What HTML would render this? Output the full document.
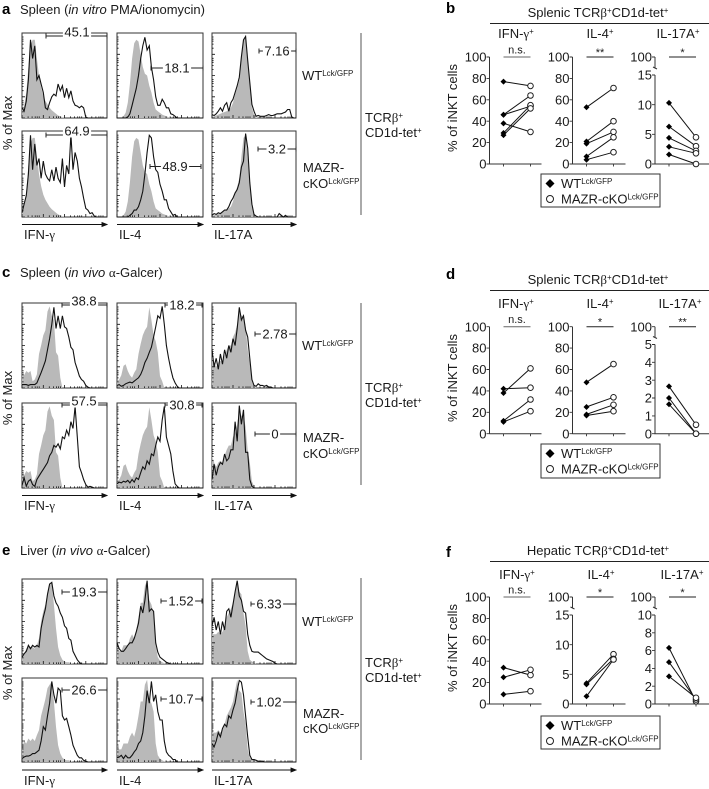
<!DOCTYPE html>
<html>
<head>
<meta charset="utf-8">
<title>MAZR-cKO iNKT cytokine figure</title>
<style>
html,body{margin:0;padding:0;background:#fff;}
svg{display:block;font-family:"Liberation Sans",sans-serif;filter:blur(0.3px);}
text{fill:#1a1a1a;}
</style>
</head>
<body>
<svg id="figure" width="709" height="789" viewBox="0 0 709 789" xmlns="http://www.w3.org/2000/svg"></svg>
<script>
/* ---------- flow histogram data: % of max per bin, 41 bins (omitted trailing bins are 0) ---------- */
const aIfnShade=[10,14,30,60,85,92,92,70,50,36,26,20,16,12,9,7,5,3,2,1];
const aIfnWt=[12,8,20,45,92,70,85,45,50,40,30,12,10,18,25,28,26,40,32,38,24,35,24,32,20,15,14,12,14,12,1];
const aIfnKo=[5,15,25,50,95,55,85,60,68,45,65,50,45,42,55,42,58,45,40,68,35,60,50,96,55,75,65,45,35,22,10,8,4,5,1];
const aIl4Shade=[0,0,0,2,6,18,40,70,88,92,90,75,60,52,50,38,30,18,10,8,6,4,3,2,1];
const aIl4Wt=[0,0,0,0,0,1,5,15,25,35,50,70,85,95,80,85,60,45,25,15,15,22,18,12,12,5,4,2];
const aIl4Ko=[0,0,0,0,0,0,2,4,8,8,12,20,30,50,75,95,92,70,55,52,38,30,20,20,10,6,2,3];
const aIl17Shade=[1,2,3,4,5,6,7,8,10,12,18,28,35,45,70,92,95,70,40,12,4,1];
const aIl17Wt=[4,3,5,8,12,8,15,18,8,18,22,30,38,48,72,92,96,68,42,16,8,2,3,2,2,2,3,4,3,3,4,5,5,5,6,7,10,10,1];
const aIl17Ko=[2,4,3,5,4,6,8,8,12,18,22,28,32,40,58,65,97,80,40,15,3,1,0,0,0,0,0,0,0,0,0,0,4,2,0,2];
const cIfnShade=[22,15,20,18,20,8,10,16,40,50,62,68,90,96,85,80,42,38,12];
const cIfnWt=[4,4,4,3,4,4,4,6,12,18,25,32,45,58,75,95,70,85,70,85,72,70,60,48,45,30,22,14,10,8,3,1];
const cIfnKo=[3,12,2,8,10,4,2,10,14,18,22,26,30,38,42,50,48,52,46,60,58,68,62,78,70,96,60,25,18,10,4,1,2,1];
const cIl4Shade=[8,10,15,26,28,20,15,12,18,22,40,52,62,68,72,95,80,62,55,42,14,8];
const cIl4Wt=[3,4,2,3,5,6,7,6,8,10,12,16,22,30,35,42,48,60,72,85,82,96,75,50,35,22,12,6,2];
const cIl4Ko=[5,7,6,8,7,9,6,10,7,12,10,18,25,22,32,28,40,38,50,60,55,80,96,60,50,40,20,5,2];
const cIl17Shade=[38,30,25,30,32,30,38,45,50,50,60,65,75,92,85,85,72,45,30,8,2];
const cIl17Wt=[45,25,35,22,40,28,45,35,50,42,58,50,70,95,80,85,68,60,35,10,3,2,5,3,3,2,3,1,1];
const cIl17Ko=[10,28,15,25,30,28,40,32,35,45,45,78,55,97,75,92,42,42,10,2];
const eIfnShadeWt=[10,12,18,22,20,20,18,22,30,50,62,70,85,92,96,70,42,20,10,5,3,2,2,1];
const eIfnShadeKo=[15,25,22,28,25,28,25,32,38,55,65,75,88,92,96,72,42,20,10,5,3,2,2,1];
const eIfnWt=[8,12,15,22,18,22,20,22,20,42,55,65,82,94,96,80,72,68,60,55,45,42,30,28,15,10,5,2];
const eIfnKo=[4,6,7,7,8,10,10,12,14,25,42,38,55,70,96,80,70,88,85,55,50,52,42,32,20,14,8,5,5,2,1];
const eIl4Shade=[20,15,15,22,22,22,30,35,30,40,55,72,72,92,98,75,70,60,22,8,4,2,1];
const eIl4Wt=[25,18,15,15,18,22,25,25,30,38,48,68,60,75,98,62,65,62,25,14,8,6,4,2,1];
const eIl4Ko=[5,6,8,4,8,5,5,8,12,15,22,25,35,55,85,70,96,72,80,60,50,50,25,12,8,6,3,3];
const eIl17Shade=[35,35,35,38,35,38,45,55,60,65,72,85,98,85,82,60,45,15,5,3,2];
const eIl17Wt=[45,55,40,50,35,50,40,62,65,55,70,85,98,80,75,62,60,35,22,15,14,14,14,12,10,8,6,5,4,3,1];
const eIl17Ko=[22,18,25,35,30,40,45,42,55,52,62,70,85,97,95,80,55,30,8,3,3,2,1,1,1];

/* ---------- printed gate percentages ---------- */
const aGateLabels=["45.1","18.1","7.16","64.9","48.9","3.2"];
const cGateLabels=["38.8","18.2","2.78","57.5","30.8","0"];
const eGateLabels=["19.3","1.52","6.33","26.6","10.7","1.02"];

/* ---------- paired summary data: WT then KO, % of iNKT cells ---------- */
const bIfnWt=[77,46,46,38,29,27];
const bIfnKo=[73,64,54,30,55,52];
const bIl4Wt=[53,21,19,7,4];
const bIl4Ko=[71,40,30,25,11];
const bIl17Wt=[10.3,6.3,4.4,2.9,1.6];
const bIl17Ko=[4.5,3,2.2,1.8,0];
const dIfnWt=[42,38,12,11];
const dIfnKo=[43,61,32,21];
const dIl4Wt=[48,25,18,17];
const dIl4Ko=[65,34,27,21];
const dIl17Wt=[2.65,2,1.65];
const dIl17Ko=[0.5,0,0];
const fIfnWt=[34,25,9];
const fIfnKo=[27,32,12];
const fIl4Wt=[3.5,3.3,1.3];
const fIl4Ko=[8.4,7.6,7.5];
const fIl17Wt=[6.3,4.7,3.1];
const fIl17Ko=[0.3,0.5,0.7];

/* ---------- axis tick labels ---------- */
const percentTicks=[0,20,40,60,80,100];
const fifteenTicks=[0,5,10,15];
const fiveTicks=[0,1,2,3,4,5];
const tenFiveTicks=[0,5,10,15];
const tenTicks=[0,2,4,6,8,10];

const NS="http://www.w3.org/2000/svg";
const root=document.getElementById('figure');
const SUP=(s)=>'<tspan dy="-4" font-size="8">'+s+'</tspan>';
const PLUS=(next)=>'<tspan dy="-4" font-size="8">+</tspan>'+(next?'<tspan dy="4">'+next+'</tspan>':'');
const SYM=(s)=>'<tspan font-family="Liberation Serif, serif">'+s+'</tspan>';

function make(tag,parent,attrs){
  const el=document.createElementNS(NS,tag);
  for(const k in attrs){el.setAttribute(k,attrs[k]);}
  parent.appendChild(el);
  return el;
}
function addText(parent,name,html,x,y,size,anchor,extra){
  const el=make('text',parent,Object.assign({x:x,y:y,'font-size':size,'text-anchor':anchor||'start'},extra||{}));
  el.innerHTML=html;
  
  
  return el;
}
function addGroup(name,parent){
  const g=make('g',parent||root,{});
  
  
  return g;
}

/* ---------- flow cytometry histogram panel ---------- */
function histX(i,px,pw){return px+pw*i/40;}
function histY(v,py,ph){return py+ph-ph*v/100;}
function histPanel(name,px,py,pw,ph,shade,line,label,gx0,gx1,gy,tx,raised){
  const g=addGroup(name);
  const frame=make('rect',g,{x:px,y:py,width:pw,height:ph,fill:'#fff',stroke:'#333','stroke-width':1});
  
  
  let sp=px+','+(py+ph)+' ';
  shade.forEach((v,i)=>{sp+=histX(i,px,pw).toFixed(1)+','+histY(v,py,ph).toFixed(1)+' ';});
  sp+=histX(shade.length,px,pw).toFixed(1)+','+(py+ph);
  const area=make('polygon',g,{points:sp,fill:'#b9b9b9',stroke:'none'});
  
  
  let lp='';
  for(let i=0;i<=40;i++){
    const v=i<line.length?line[i]:0;
    lp+=histX(i,px,pw).toFixed(1)+','+histY(v,py,ph).toFixed(1)+' ';
  }
  const trace=make('polyline',g,{points:lp,fill:'none',stroke:'#111','stroke-width':1.1,'stroke-linejoin':'miter'});
  
  
  /* log ticks */
  const cycle=[0,6,10,13,15,17];
  let ticks='';
  for(let dec=0;dec<4;dec++){
    cycle.forEach((c,j)=>{
      const f=(dec*21+c)/84;
      if(f>1)return;
      const len=j===0?3:1.6;
      const bx=px+pw*f;
      ticks+='M'+bx.toFixed(1)+' '+(py+ph)+'v'+(-len)+' ';
      const ly=py+ph-ph*(dec*25+c*25/21)/100;
      ticks+='M'+px+' '+ly.toFixed(1)+'h'+len+' ';
    });
  }
  const tk=make('path',g,{d:ticks,stroke:'#111','stroke-width':0.8,fill:'none'});
  
  
  /* gate */
  const gate=make('path',g,{d:'M'+gx0+' '+(gy-2.5)+'v5M'+gx0+' '+gy+'H'+gx1+'M'+gx1+' '+(gy-2.5)+'v5',stroke:'#222','stroke-width':1,fill:'none'});
  
  
  const tw=label.replace('.','').length*7.2+(label.includes('.')?3.6:0)+3;
  const lift=raised?4.2:0;
  const bg=make('rect',g,{x:tx-tw/2,y:gy-5-lift,width:tw,height:10+lift*0.4,fill:'#fff'});
  
  
  addText(g,'gate-value',label,tx,gy+4.6-lift,13,'middle');
}
const COLX=[22,117,212];
const COLW=[85,86,84];

/* section a */
histPanel('a-ifn-wt',COLX[0],33,COLW[0],85,aIfnShade,aIfnWt,aGateLabels[0],46,107,36,77,true);
histPanel('a-il4-wt',COLX[1],33,COLW[1],85,aIl4Shade,aIl4Wt,aGateLabels[1],151,203,68,177);
histPanel('a-il17-wt',COLX[2],33,COLW[2],85,aIl17Shade,aIl17Wt,aGateLabels[2],259,296,51,277);
histPanel('a-ifn-ko',COLX[0],131,COLW[0],86,aIfnShade,aIfnKo,aGateLabels[3],46,107,135,77,true);
histPanel('a-il4-ko',COLX[1],131,COLW[1],86,aIl4Shade,aIl4Ko,aGateLabels[4],150,201,166.5,175);
histPanel('a-il17-ko',COLX[2],131,COLW[2],86,aIl17Shade,aIl17Ko,aGateLabels[5],258,296,149,277);
/* section c */
histPanel('c-ifn-wt',COLX[0],303,COLW[0],85,cIfnShade,cIfnWt,cGateLabels[0],62,107,305,84,true);
histPanel('c-il4-wt',COLX[1],303,COLW[1],85,cIl4Shade,cIl4Wt,cGateLabels[1],165,202,305,182);
histPanel('c-il17-wt',COLX[2],303,COLW[2],85,cIl17Shade,cIl17Wt,cGateLabels[2],255,296,334,275);
histPanel('c-ifn-ko',COLX[0],403,COLW[0],85,cIfnShade,cIfnKo,cGateLabels[3],62,107,405,84,true);
histPanel('c-il4-ko',COLX[1],403,COLW[1],85,cIl4Shade,cIl4Ko,cGateLabels[4],165,202,405,182);
histPanel('c-il17-ko',COLX[2],403,COLW[2],85,cIl17Shade,cIl17Ko,cGateLabels[5],255,296,434,275);
/* section e */
histPanel('e-ifn-wt',COLX[0],579,COLW[0],85,eIfnShadeWt,eIfnWt,eGateLabels[0],62,107,592,84);
histPanel('e-il4-wt',COLX[1],579,COLW[1],85,eIl4Shade,eIl4Wt,eGateLabels[1],161,202,601,181);
histPanel('e-il17-wt',COLX[2],579,COLW[2],85,eIl17Shade,eIl17Wt,eGateLabels[2],251,296,604,269);
histPanel('e-ifn-ko',COLX[0],678,COLW[0],84,eIfnShadeKo,eIfnKo,eGateLabels[3],62,107,690,84);
histPanel('e-il4-ko',COLX[1],678,COLW[1],84,eIl4Shade,eIl4Ko,eGateLabels[4],161,202,699,181);
histPanel('e-il17-ko',COLX[2],678,COLW[2],84,eIl17Shade,eIl17Ko,eGateLabels[5],251,296,702,269);

/* ---------- flow section decorations ---------- */
function flowSection(id,letter,headerHtml,headerY,arrowY,labelY,maxLabelY,vTop,vBottom,tcrY,cdY,wtY,mazrY,ckoY){
  const g=addGroup('section-'+id);
  addText(g,'panel-letter-'+id,letter,2,headerY,15,'start',{'font-weight':'bold',style:'fill:#000'});
  addText(g,'section-title-'+id,headerHtml,20,headerY,13);
  addText(g,'y-axis-title-'+id,'% of Max',12,maxLabelY,13,'middle',{transform:'rotate(-90 12 '+maxLabelY+')'});
  const names=['IFN-'+SYM('γ'),'IL-4','IL-17A'];
  const short=['ifn','il4','il17'];
  COLX.forEach((x,i)=>{
    const ar=make('path',g,{d:'M'+x+' '+arrowY+'H'+(x+COLW[i]-4)+'M'+(x+COLW[i]-5)+' '+(arrowY-2)+'L'+(x+COLW[i])+' '+arrowY+'L'+(x+COLW[i]-5)+' '+(arrowY+2)+'Z',stroke:'#111','stroke-width':0.9,fill:'#111'});
    
    
    addText(g,'x-axis-title-'+short[i],names[i],x+2,labelY,13);
  });
  const bar=make('line',g,{x1:361,x2:361,y1:vTop,y2:vBottom,stroke:'#555','stroke-width':1});
  
  
  addText(g,'tcr-label','TCR'+SYM('β')+PLUS(),365,tcrY,13);
  addText(g,'cd1d-label','CD1d-tet'+PLUS(),365,cdY,13);
  addText(g,'wt-row-label','WT'+SUP('Lck/GFP'),302,wtY,13);
  addText(g,'mazr-row-label','MAZR-',303,mazrY,13);
  addText(g,'cko-row-label','cKO'+SUP('Lck/GFP'),303,ckoY,13);
}
flowSection('a','a','Spleen (<tspan font-style="italic">in vitro</tspan> PMA/ionomycin)',14,224.5,239,123,33,215,122,137,80,172,188);
flowSection('c','c','Spleen (<tspan font-style="italic">in vivo</tspan> '+SYM('α')+'-Galcer)',277,495.5,510,398,303,485,392,407,350,442,458);
flowSection('e','e','Liver (<tspan font-style="italic">in vivo</tspan> '+SYM('α')+'-Galcer)',555,770,785,673,578,760,667,682,626,718,733);

/* ---------- paired plots ---------- */
const PAIRX=[489.5,572.5,655];
const PAIRW=[52,53,54];
function pairPlot(name,col,y0,yTop,maxVal,ticks,wt,ko,sig,broken){
  const ax=PAIRX[col];
  const g=addGroup(name);
  const yFn=(v)=>y0-(y0-yTop)*v/maxVal;
  const breakY=yTop-7;
  const hundredY=y0-107;
  let d='M'+ax+' '+hundredY+'V'+(broken?breakY:y0)+'M'+ax+' '+(broken?yTop:y0)+'V'+y0+'H'+(ax+PAIRW[col]);
  if(broken){d+='M'+(ax-2)+' '+(breakY-1)+'l4 2';}
  const axis=make('path',g,{d:d,fill:'none',stroke:'#333','stroke-width':1});
  
  
  let td='';
  ticks.forEach((t)=>{
    td+='M'+(ax-3)+' '+yFn(t).toFixed(1)+'H'+ax;
    addText(g,'y-tick-label',String(t),ax-3,(yFn(t)+4.6).toFixed(1),13,'end');
  });
  if(broken){
    td+='M'+(ax-3)+' '+hundredY+'H'+ax;
    addText(g,'y-tick-label','100',ax-3,hundredY+4.6,13,'end');
  }
  const x1=ax+14,x2=ax+41;
  td+='M'+x1+' '+y0+'v2.5M'+x2+' '+y0+'v2.5';
  const tk=make('path',g,{d:td,fill:'none',stroke:'#333','stroke-width':0.9});
  
  
  /* significance */
  const sl=make('line',g,{x1:x1,x2:x2,y1:hundredY,y2:hundredY,stroke:sig==='n.s.'?'#666':'#222','stroke-width':1});
  
  
  addText(g,'significance-label',sig,(x1+x2)/2,sig==='n.s.'?hundredY-3.5:hundredY-1,11,'middle');
  /* pairs */
  wt.forEach((w,i)=>{
    const ln=make('line',g,{x1:x1,y1:yFn(w).toFixed(1),x2:x2,y2:yFn(ko[i]).toFixed(1),stroke:'#111','stroke-width':1});
    
    
  });
  wt.forEach((w)=>{
    const y=yFn(w);
    const dm=make('polygon',g,{points:x1+','+(y-3)+' '+(x1+3)+','+y+' '+x1+','+(y+3)+' '+(x1-3)+','+y,fill:'#000'});
    
    
  });
  ko.forEach((k)=>{
    const c=make('circle',g,{cx:x2,cy:yFn(k).toFixed(1),r:2.8,fill:'#fff',stroke:'#222','stroke-width':1});
    
    
  });
}
function pairSection(id,letter,titleWord,letterY,titleY,ruleY,subY,legendTop,legendBottom,yLabelY,sx){
  const g=addGroup('section-'+id);
  addText(g,'panel-letter-'+id,letter,446,letterY,15,'start',{'font-weight':'bold',style:'fill:#000'});
  addText(g,'chart-title-'+id,titleWord+' TCR'+SYM('β')+PLUS('CD1d-tet')+'<tspan dy="-4" font-size="8">+</tspan>',598,titleY,13,'middle');
  const rule=make('line',g,{x1:490,x2:709,y1:ruleY,y2:ruleY,stroke:'#222','stroke-width':1});
  
  
  addText(g,'subtitle-ifn','IFN-'+SYM('γ')+PLUS(),sx[0],subY,13,'middle');
  addText(g,'subtitle-il4','IL-4'+PLUS(),sx[1],subY,13,'middle');
  addText(g,'subtitle-il17','IL-17A'+PLUS(),sx[2],subY,13,'middle');
  addText(g,'y-axis-title-'+id,'% of iNKT cells',457,yLabelY,13,'middle',{transform:'rotate(-90 457 '+yLabelY+')'});
  const leg=addGroup('legend-'+id,g);
  const box=make('rect',leg,{x:541,y:legendTop,width:119,height:legendBottom-legendTop,fill:'#fff',stroke:'#333','stroke-width':1});
  
  
  const dy=legendTop+9.5, cy=legendTop+25;
  const dm=make('polygon',leg,{points:'550,'+(dy-4.5)+' 554.5,'+dy+' 550,'+(dy+4.5)+' 545.5,'+dy,fill:'#000'});
  
  
  addText(leg,'legend-wt-label','WT'+SUP('Lck/GFP'),561,dy+4.5,13);
  const c=make('circle',leg,{cx:550,cy:cy,r:3.5,fill:'#fff',stroke:'#222','stroke-width':1});
  
  
  addText(leg,'legend-ko-label','MAZR-cKO'+SUP('Lck/GFP'),561,cy+4.5,13);
}
pairSection('b','b','Splenic',13,17,23.5,38,174,207,108,[516,600,678]);
pairSection('d','d','Splenic',279,284,290.5,308,444,478,378,[516,600,680]);
pairSection('f','f','Hepatic',557,555,561.5,579,716,749,648,[517,601,682]);

pairPlot('b-ifn-plot',0,164,57,100,percentTicks,bIfnWt,bIfnKo,'n.s.',false);
pairPlot('b-il4-plot',1,164,57,100,percentTicks,bIl4Wt,bIl4Ko,'**',false);
pairPlot('b-il17-plot',2,164,75,15,fifteenTicks,bIl17Wt,bIl17Ko,'*',true);
pairPlot('d-ifn-plot',0,433.7,326.7,100,percentTicks,dIfnWt,dIfnKo,'n.s.',false);
pairPlot('d-il4-plot',1,433.7,326.7,100,percentTicks,dIl4Wt,dIl4Ko,'*',false);
pairPlot('d-il17-plot',2,433.7,344.5,5,fiveTicks,dIl17Wt,dIl17Ko,'**',true);
pairPlot('f-ifn-plot',0,704,597,100,percentTicks,fIfnWt,fIfnKo,'n.s.',false);
pairPlot('f-il4-plot',1,704,615,15,tenFiveTicks,fIl4Wt,fIl4Ko,'*',true);
pairPlot('f-il17-plot',2,704,615,10,tenTicks,fIl17Wt,fIl17Ko,'*',true);
</script>
</body>
</html>
